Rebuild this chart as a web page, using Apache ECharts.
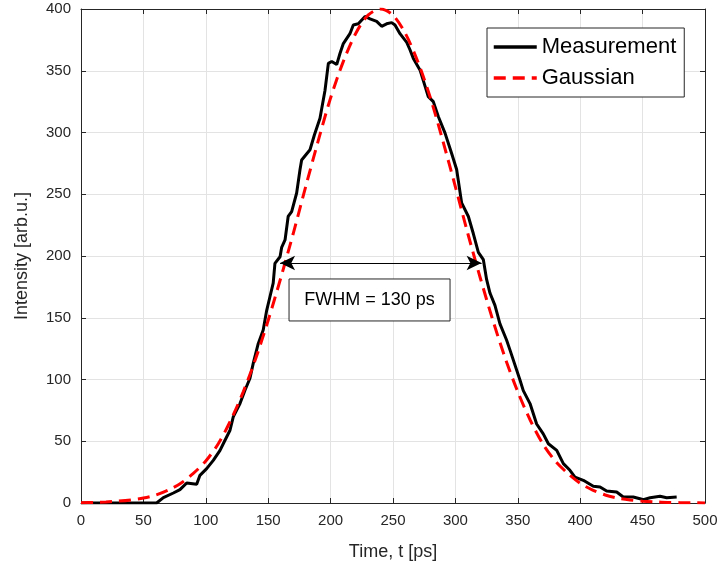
<!doctype html>
<html lang="en">
<head>
    <meta charset="UTF-8">
    <title>Pulse measurement</title>
    <script src="https://cdn.jsdelivr.net/npm/echarts@6/dist/echarts.min.js"></script>
    <style>
        html, body { margin: 0; padding: 0; background: #fff; }
        #main { width: 722px; height: 571px; }
    </style>
</head>
<body>
<div id="main"></div>
<script type="text/javascript">
    var measTime = [0, 10, 20, 30, 40, 50, 60.6, 66, 74, 79.3, 84.7, 92.7, 95.3, 100.7, 106, 111.4, 114, 119.4, 122, 127.4,
        131.4, 135.4, 138, 142, 146, 148.8, 151.4, 154, 155.4, 159.5, 160.8, 163.5, 166, 168.8, 172.8, 175.5, 176.8,
        183.5, 187, 191.5, 195.5, 198.2, 200.9, 204.9, 207.5, 210.2, 215.5, 218.2, 222.2, 227.6, 231.6, 236.9, 240.9,
        244.9, 248.9, 251.6, 255.6, 261, 263.6, 266.3, 271.6, 274.3, 278.3, 282.3, 286.3, 291.7, 297, 301, 305, 310.4,
        314.4, 318.4, 322.4, 325, 327.7, 331.7, 335.7, 341, 343.7, 351.8, 354.4, 359.8, 365.1, 370.4, 374.5, 381.2,
        386.5, 391.8, 395.8, 402.5, 410.5, 415.9, 421.2, 429.2, 434.5, 442.5, 447.9, 450.6, 456, 464, 469.3, 477.3];
    var measValue = [0, 0, 0, 0, 0, 0, 0, 4.4, 8.1, 10.8, 16.2, 15.1, 22.4, 27.8, 34.5, 42.6, 48, 58.9, 69.7, 80.5,
        91.3, 101, 113, 129, 140, 156, 167, 178, 194, 199.4, 207, 213, 232, 236, 251, 270, 277.7,
        286, 298, 311.5, 334, 356, 357.5, 355, 364, 372, 380, 387, 388, 394, 392, 390, 386,
        388, 389, 387, 380, 373, 367, 360, 350.7, 342, 329, 325, 313, 299.5, 283, 270, 243, 232,
        218, 203, 197, 181, 170, 160, 145, 132, 124, 99.4, 91, 80.5, 64, 56, 48, 42.6,
        31.9, 26.5, 21, 18.4, 13.5, 13, 9.7, 8.9, 4.9, 4.9, 3.5, 2.7, 4.3, 5.4, 4.3, 4.9];

    // fitted gaussian (every 10 ps)
    var gaussTime = [0, 10, 20, 30, 40, 50, 60, 70, 80, 90, 100, 110, 120, 130, 140, 150, 160, 170, 180, 190, 200,
        210, 220, 230, 240, 250, 260, 270, 280, 290, 300, 310, 320, 330, 340, 350, 360, 370, 380, 390, 400,
        410, 420, 430, 440, 450, 460, 470, 480, 490, 500];
    var gaussValue = [0.3, 0.5, 0.9, 1.5, 2.5, 4, 6.5, 10.5, 16, 24, 34, 48, 67, 90, 117, 148, 182, 218, 256, 293, 328,
        357, 380, 395, 400, 395, 380, 357, 328, 293, 256, 218, 182, 148, 117, 90, 67, 48, 34, 24, 16,
        10.5, 6.5, 4, 2.5, 1.5, 0.9, 0.5, 0.3, 0.2, 0.1];

    var xTicks = { min: 0, max: 500, interval: 50 };
    var yTicks = { min: 0, max: 400, interval: 50 };

    // annotation: FWHM arrow and label box
    var fwhmArrow = [159.5, 321, 194.3];
    var fwhmLabel = 'FWHM = 130 ps';
    var fwhmBox = [166.7, 181.4, 295.7, 147.4];

    function pairs(xs, ys) {
        var out = [];
        for (var i = 0; i < xs.length; i++) {
            out.push([xs[i], ys[i]]);
        }
        return out;
    }

    var axisColor = '#262626';
    var font = '"Liberation Sans", Arial, Helvetica, sans-serif';

    var myChart = echarts.init(document.getElementById('main'));

    function sideAxis(pos) {
        return {
            type: 'value', position: pos,
            min: pos === 'top' ? xTicks.min : yTicks.min,
            max: pos === 'top' ? xTicks.max : yTicks.max,
            interval: pos === 'top' ? xTicks.interval : yTicks.interval,
            axisLine: { show: true, onZero: false, lineStyle: { color: axisColor, width: 1 } },
            axisTick: { show: true, inside: true, length: 5, lineStyle: { color: axisColor } },
            axisLabel: { show: false },
            splitLine: { show: false }
        };
    }

    myChart.setOption({
        animation: false,
        backgroundColor: '#ffffff',
        grid: { left: 81, right: 17, top: 9, bottom: 68, containLabel: false },
        legend: {
            left: 487, top: 28,
            orient: 'vertical',
            backgroundColor: '#ffffff',
            borderColor: axisColor,
            borderWidth: 1,
            padding: [8, 8, 8, 5],
            itemWidth: 43,
            itemHeight: 22,
            itemGap: 9,
            itemStyle: { opacity: 0 },
            lineStyle: { width: 3.5 },
            textStyle: { fontFamily: font, fontSize: 22, color: '#000' },
            data: ['Measurement', 'Gaussian']
        },
        xAxis: [{
            type: 'value',
            min: xTicks.min, max: xTicks.max, interval: xTicks.interval,
            name: 'Time, t [ps]',
            nameLocation: 'middle',
            nameGap: 40,
            nameTextStyle: { fontFamily: font, fontSize: 18, color: axisColor },
            axisLine: { show: true, onZero: false, lineStyle: { color: axisColor, width: 1 } },
            axisTick: { show: true, inside: true, length: 5, lineStyle: { color: axisColor } },
            axisLabel: { fontFamily: font, fontSize: 15, color: axisColor, margin: 10 },
            splitLine: { show: true, lineStyle: { color: '#e3e3e3', width: 1 } }
        }, sideAxis('top')],
        yAxis: [{
            type: 'value',
            min: yTicks.min, max: yTicks.max, interval: yTicks.interval,
            name: 'Intensity [arb.u.]',
            nameLocation: 'middle',
            nameGap: 50,
            nameTextStyle: { fontFamily: font, fontSize: 18, color: axisColor },
            axisLine: { show: true, onZero: false, lineStyle: { color: axisColor, width: 1 } },
            axisTick: { show: true, inside: true, length: 5, lineStyle: { color: axisColor } },
            axisLabel: { fontFamily: font, fontSize: 15, color: axisColor, margin: 10 },
            splitLine: { show: true, lineStyle: { color: '#e3e3e3', width: 1 } }
        }, sideAxis('right')],
        series: [
            {
                name: 'Measurement',
                type: 'line',
                data: pairs(measTime, measValue),
                showSymbol: false,
                symbol: 'none',
                lineStyle: { color: '#000', width: 3 },
                itemStyle: { color: '#000' },
                z: 2,
                markLine: {
                    silent: true,
                    symbol: ['arrow', 'arrow'],
                    symbolSize: [11, 15],
                    label: { show: false },
                    lineStyle: { color: '#000', width: 1, type: 'solid' },
                    data: [[{ coord: [fwhmArrow[0], fwhmArrow[2]] }, { coord: [fwhmArrow[1], fwhmArrow[2]] }]]
                }
            },
            {
                name: 'Gaussian',
                type: 'line',
                data: pairs(gaussTime, gaussValue),
                smooth: 0.3,
                showSymbol: false,
                symbol: 'none',
                lineStyle: { color: '#ff0000', width: 3, type: [12, 7] },
                itemStyle: { color: '#ff0000' },
                z: 3
            }
        ]
    });

    // label box placed in data coordinates
    var p1 = myChart.convertToPixel({ xAxisIndex: 0, yAxisIndex: 0 }, [fwhmBox[0], fwhmBox[1]]);
    var p2 = myChart.convertToPixel({ xAxisIndex: 0, yAxisIndex: 0 }, [fwhmBox[2], fwhmBox[3]]);
    myChart.setOption({
        graphic: [{
            type: 'rect',
            shape: { x: p1[0], y: p1[1], width: p2[0] - p1[0], height: p2[1] - p1[1] },
            style: { fill: '#ffffff', stroke: axisColor, lineWidth: 1 },
            z: 10
        }, {
            type: 'text',
            x: (p1[0] + p2[0]) / 2,
            y: (p1[1] + p2[1]) / 2,
            style: {
                text: fwhmLabel, fontFamily: font, fontSize: 18, fill: '#000',
                align: 'center', verticalAlign: 'middle'
            },
            z: 11
        }]
    });
</script>
</body>
</html>
